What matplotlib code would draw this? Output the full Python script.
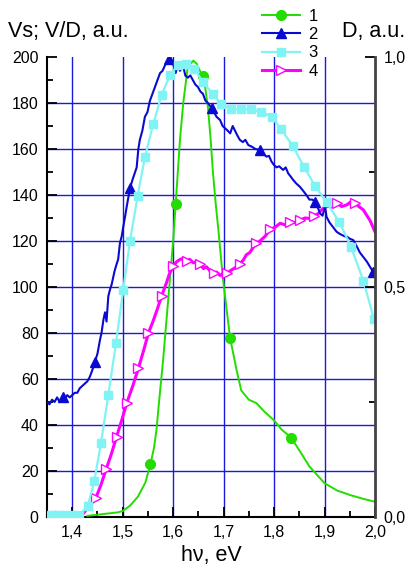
import numpy as np
import matplotlib.pyplot as plt
from matplotlib.ticker import MultipleLocator, FuncFormatter

plt.rcParams['font.family'] = ['Liberation Sans', 'DejaVu Sans']

# curve 1 (green, D)
x1 = [1.43, 1.45, 1.47, 1.49, 1.50, 1.515, 1.53, 1.545, 1.555, 1.562, 1.567, 1.572, 1.58, 1.59,
      1.60, 1.605, 1.6135, 1.62, 1.629, 1.64, 1.647, 1.653, 1.659, 1.664, 1.669, 1.674, 1.679,
      1.684, 1.6895, 1.699, 1.7127, 1.7256, 1.735, 1.75, 1.765, 1.78, 1.80, 1.815, 1.834, 1.85,
      1.87, 1.90, 1.925, 1.95, 1.975, 2.0]
y1 = [0.5, 1, 1.5, 2, 2.6, 5, 8.8, 15, 23, 30, 38, 50, 68, 94,
      120, 136, 164, 180, 195.8, 198.4, 197, 194, 191.7, 186, 178, 165, 149.5,
      137, 125, 103, 78, 64, 55, 51, 49.5, 46, 42, 38, 34.5, 29,
      22, 14.7, 11.5, 9.6, 8, 6.6]
mark1 = [1.555, 1.605, 1.659, 1.7127, 1.834]

# curve 2 (blue)
x2 = [1.350, 1.355, 1.360, 1.365, 1.370, 1.375, 1.381, 1.385, 1.390, 1.395, 1.400, 1.405, 1.410,
      1.415, 1.420, 1.425, 1.430, 1.435, 1.440, 1.445, 1.450, 1.455, 1.458, 1.462, 1.465, 1.468,
      1.4715, 1.475, 1.478, 1.481, 1.484, 1.488, 1.491, 1.4945, 1.498, 1.501, 1.505, 1.508,
      1.5145, 1.520, 1.5277, 1.531, 1.534, 1.539, 1.544, 1.549, 1.554, 1.559, 1.564, 1.569,
      1.574, 1.579, 1.584, 1.5924, 1.597, 1.600, 1.605, 1.609, 1.6135, 1.620, 1.624, 1.629,
      1.634, 1.639, 1.644, 1.649, 1.654, 1.659, 1.664, 1.669, 1.676, 1.681, 1.686, 1.693,
      1.698, 1.703, 1.708, 1.713, 1.718, 1.7225, 1.727, 1.732, 1.738, 1.743, 1.749, 1.756,
      1.763, 1.772, 1.778, 1.785, 1.790, 1.795, 1.800, 1.805, 1.810, 1.818, 1.823, 1.828,
      1.833, 1.838, 1.844, 1.851, 1.857, 1.864, 1.870, 1.876, 1.881, 1.886, 1.891, 1.896,
      1.901, 1.904, 1.910, 1.917, 1.924, 1.931, 1.940, 1.944, 1.950, 1.957, 1.963, 1.970,
      1.977, 1.984, 1.990, 1.996, 2.000]
y2 = [50, 49, 51, 50, 52, 50, 52, 51, 53, 52, 53, 54, 54,
      56, 57, 58, 59, 61, 64, 67.5, 71, 77, 80, 86, 89, 85,
      96, 99, 101, 104, 107, 110, 112, 119, 122, 126, 131, 135,
      143, 147, 152, 160, 164, 168, 174, 176, 181, 184, 187, 190,
      193, 194, 196.5, 199, 198, 197, 193, 197, 194, 196, 192, 191,
      192, 190, 188, 187, 185, 184, 181, 180, 177.8, 176, 174, 172.6,
      170, 169, 168, 166.8, 170, 168, 166, 164, 163, 164, 161.7, 161,
      160, 159.6, 158, 156.7, 157, 154.5, 153, 152, 152.5, 150.9, 152, 149.4,
      148, 146.5, 145, 143.6, 142, 140, 138, 138, 137, 135, 132, 131,
      135, 130.5, 128, 126, 124, 123, 122, 121.9, 121, 120.4, 118, 115,
      113, 111, 108.8, 106.7, 105]
mark2 = [1.381, 1.445, 1.5145, 1.5924, 1.676, 1.772, 1.881, 1.996]

# curve 3 (cyan)
x3 = [1.350, 1.357, 1.371, 1.386, 1.400, 1.414, 1.4306, 1.4438, 1.457, 1.4715, 1.4867, 1.501,
      1.5145, 1.5296, 1.544, 1.5606, 1.577, 1.5937, 1.609, 1.6255, 1.642, 1.660, 1.678,
      1.6955, 1.7146, 1.734, 1.7535, 1.7735, 1.795, 1.814, 1.837, 1.860, 1.881, 1.904,
      1.929, 1.9524, 1.977, 1.998, 2.000]
y3 = [1, 1, 1, 1, 0.8, 0.8, 4.8, 15.6, 32.3, 53, 75.5, 98.7,
      120, 139.6, 156.4, 170.9, 183.5, 192, 196.5, 197, 194.6, 189, 184,
      179.6, 177.3, 177.3, 177.3, 176.2, 174, 168.6, 161.3, 152, 144, 136.8,
      128.4, 117.5, 102.7, 86, 85]

# curve 4 (magenta)
x4 = [1.35, 1.36, 1.365, 1.37, 1.375, 1.38, 1.39, 1.40, 1.41, 1.42, 1.4273, 1.435, 1.447, 1.457,
      1.467, 1.477, 1.488, 1.498, 1.508, 1.52, 1.531, 1.541, 1.551, 1.56, 1.568, 1.577, 1.587,
      1.593, 1.600, 1.607, 1.614, 1.620, 1.627, 1.633, 1.640, 1.646, 1.653, 1.66, 1.666,
      1.673, 1.68, 1.686, 1.693, 1.699, 1.706, 1.713, 1.72, 1.7256, 1.732, 1.739, 1.745,
      1.752, 1.758, 1.765, 1.772, 1.782, 1.792, 1.802, 1.812, 1.822, 1.832, 1.841, 1.851,
      1.861, 1.871, 1.88, 1.888, 1.896, 1.904, 1.914, 1.924, 1.934, 1.944, 1.952, 1.96,
      1.968, 1.977, 1.984, 1.990, 1.996, 2.0]
y4 = [1, 1.5, 2, 2, 1.5, 1, 1, 1, 1, 1, 3, 5, 8.4, 14,
      20.7, 27, 35, 42, 49.5, 57, 64.6, 72, 80, 85, 90, 96, 102,
      106, 109, 111, 112, 112.5, 111.5, 112, 110.5, 111, 110, 108, 108.8,
      107, 106, 106.5, 105, 106, 106, 107, 108, 108.8, 110, 111.7, 114,
      115, 117, 119, 120, 122, 125, 126, 127.7, 127, 128.4, 128, 129,
      130, 129.8, 131, 132, 134, 135, 135, 136.4, 135, 135.7, 137, 136.4,
      135, 133.5, 131, 129, 126, 124]
mark4 = [1.447, 1.467, 1.488, 1.508, 1.531, 1.551, 1.577, 1.600, 1.627, 1.653, 1.68, 1.706,
         1.732, 1.765, 1.792, 1.832, 1.851, 1.88, 1.924, 1.96]


def idx(xs, marks):
    return [xs.index(m) for m in marks]


fig = plt.figure(figsize=(4.06, 5.74), dpi=100)
ax = fig.add_axes([47 / 406, 1 - 517 / 574, 328 / 406, 460 / 574])

grid_c = '#1a1ad8'
for gx in [1.4, 1.5, 1.6, 1.7, 1.8, 1.9]:
    ax.axvline(gx, color=grid_c, lw=1.0, zorder=0)
for gy in range(20, 200, 20):
    ax.axhline(gy, color=grid_c, lw=1.0, zorder=0)

ax.plot(x1, y1, color='#22dd00', lw=1.4, marker='o', ms=7, markevery=idx(x1, mark1), label='1', zorder=3)
ax.plot(x2, y2, color='#0a0ad0', lw=1.5, marker='^', ms=7, markevery=idx(x2, mark2), label='2', zorder=4)
ax.plot(x3, y3, color='#80f4f4', lw=1.6, marker='s', ms=6, markevery=list(range(1, len(x3) - 1)),
        label='3', zorder=5)
ax.plot(x4, y4, color='#ff00ff', lw=2.2, marker='>', ms=7, mfc='white', mec='#ff00ff', mew=1.0,
        markevery=idx(x4, mark4), label='4', zorder=3)

ax.set_xlim(1.35, 2.0)
ax.set_ylim(0, 200)
comma = FuncFormatter(lambda v, p: f"{v:.1f}".replace('.', ','))
ax.xaxis.set_major_locator(MultipleLocator(0.1))
ax.xaxis.set_minor_locator(MultipleLocator(0.05))
ax.xaxis.set_major_formatter(comma)
ax.yaxis.set_major_locator(MultipleLocator(20))
ax.yaxis.set_minor_locator(MultipleLocator(10))
ax.tick_params(which='both', direction='in', labelsize=11.5, width=1.3, top=False, right=False)
ax.tick_params(which='major', length=7, pad=6)
ax.tick_params(which='minor', length=4)
ax.spines['top'].set_visible(False)
ax.spines['right'].set_visible(False)
for s in ['left', 'bottom']:
    ax.spines[s].set_linewidth(1.5)
ax.set_xlabel('hν, eV', fontsize=15.5, labelpad=3)

ax2 = ax.twinx()
ax2.set_ylim(0, 1.0)
ax2.yaxis.set_major_locator(MultipleLocator(0.5))
ax2.yaxis.set_minor_locator(MultipleLocator(0.25))
ax2.yaxis.set_major_formatter(comma)
ax2.tick_params(which='both', direction='in', labelsize=11.5, width=1.3)
ax2.tick_params(which='major', length=7, pad=6)
ax2.tick_params(which='minor', length=4)
for s in ['top', 'left', 'bottom']:
    ax2.spines[s].set_visible(False)
ax2.spines['right'].set_linewidth(2.0)
ax2.spines['right'].set_color('#444444')

fig.text(8 / 406, 1 - 31 / 574, 'Vs; V/D, a.u.', fontsize=15.5, va='center', ha='left')
fig.text(405 / 406, 1 - 31 / 574, 'D, a.u.', fontsize=15.5, va='center', ha='right')

handles, labels = ax.get_legend_handles_labels()
fig.legend(handles, labels, loc='upper left', bbox_to_anchor=(250 / 406, 1 + 3 / 574), frameon=False,
           fontsize=12, handlelength=2.3, handletextpad=0.5, labelspacing=0.2, borderpad=0.2)

fig.savefig('out.png', dpi=100)
